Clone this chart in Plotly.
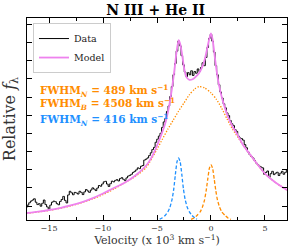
import numpy as np
import plotly.graph_objects as go

# ---- observed spectrum (velocity grid step 0.15, x 10^3 km/s) ----
data_v0 = -17.10
data_step = 0.15
data_flux = [
    0.070, 0.082, 0.095, 0.104, 0.110, 0.117, 0.098, 0.085, 0.090, 0.076,
    0.092, 0.110, 0.085, 0.072, 0.058, 0.082, 0.098, 0.104, 0.101, 0.090,
    0.084, 0.102, 0.113, 0.130, 0.108, 0.094, 0.138, 0.158, 0.150, 0.139,
    0.152, 0.149, 0.143, 0.158, 0.152, 0.140, 0.155, 0.168, 0.160, 0.152,
    0.165, 0.177, 0.170, 0.162, 0.176, 0.190, 0.186, 0.198, 0.210, 0.213,
    0.198, 0.185, 0.200, 0.214, 0.210, 0.218, 0.222, 0.215, 0.228, 0.233,
    0.224, 0.217, 0.232, 0.242, 0.246, 0.252, 0.262, 0.268, 0.276, 0.287,
    0.283, 0.296, 0.300, 0.330, 0.335, 0.342, 0.355, 0.370, 0.388, 0.400,
    0.428, 0.445, 0.462, 0.478, 0.510, 0.540, 0.560, 0.598, 0.628, 0.680,
    0.735, 0.800, 0.862, 0.930, 0.985, 0.960, 0.905, 0.855, 0.815, 0.790,
    0.812, 0.800, 0.822, 0.796, 0.818, 0.808, 0.832, 0.818, 0.840, 0.866,
    0.850, 0.895, 0.950, 1.000, 1.022, 0.985, 0.925, 0.850, 0.800, 0.745,
    0.705, 0.672, 0.640, 0.618, 0.590, 0.575, 0.548, 0.530, 0.520, 0.498,
    0.488, 0.462, 0.452, 0.448, 0.440, 0.415, 0.398, 0.375, 0.360, 0.350,
    0.342, 0.328, 0.314, 0.305, 0.296, 0.292, 0.287, 0.252, 0.262, 0.270,
    0.235, 0.255, 0.268, 0.250, 0.258, 0.263, 0.245, 0.258, 0.268, 0.252,
    0.262, 0.274,
]
data_vel = np.round(data_v0 + data_step * np.arange(len(data_flux)), 2)

# ---- total model ----
model_vel = [-17.1, -16, -15, -14, -13, -12, -11, -10, -9, -8, -7, -6, -5.5, -5,
             -4.6, -4.2, -3.9, -3.6, -3.4, -3.2, -3.0, -2.85, -2.7, -2.5, -2.3,
             -2.0, -1.7, -1.4, -1.1, -0.8, -0.55, -0.3, -0.15, 0.0, 0.15, 0.35,
             0.6, 0.9, 1.2, 1.6, 2.0, 2.5, 3.0, 3.5, 4.0, 5.0, 6.0, 7.1]
model_flux = [0.038, 0.046, 0.055, 0.066, 0.080, 0.097, 0.119, 0.146, 0.176, 0.205,
              0.245, 0.300, 0.345, 0.410, 0.470, 0.540, 0.620, 0.730, 0.820, 0.920,
              0.990, 0.970, 0.920, 0.840, 0.790, 0.772, 0.775, 0.790, 0.810, 0.845,
              0.890, 0.960, 1.000, 1.028, 0.995, 0.900, 0.790, 0.700, 0.635, 0.565,
              0.515, 0.465, 0.410, 0.370, 0.330, 0.255, 0.205, 0.163]

# ---- broad component ----
broad_vel = [-17.1, -15, -13, -11, -10, -9, -8, -7, -6, -5, -4.5, -4, -3.5, -3,
             -2.5, -2, -1.5, -1.1, -0.6, 0, 0.5, 1, 1.5, 2, 2.5, 3, 4, 5, 6, 7.1]
broad_flux = [0.036, 0.053, 0.077, 0.115, 0.140, 0.170, 0.205, 0.240, 0.290, 0.390,
              0.445, 0.500, 0.550, 0.600, 0.645, 0.690, 0.722, 0.735, 0.728, 0.700,
              0.665, 0.615, 0.555, 0.500, 0.455, 0.410, 0.330, 0.255, 0.205, 0.163]

# ---- narrow components ----
narrow_b_vel = [-4.75, -4.5, -4.25, -4.0, -3.8, -3.6, -3.45, -3.3, -3.15, -3.0, -2.85,
                -2.7, -2.55, -2.4, -2.2, -2.0, -1.75, -1.5, -1.3]
narrow_b_flux = [0.004, 0.012, 0.025, 0.045, 0.070, 0.115, 0.170, 0.250, 0.320, 0.342,
                 0.320, 0.250, 0.170, 0.115, 0.070, 0.045, 0.025, 0.012, 0.004]
narrow_r_vel = [-1.85, -1.6, -1.3, -1.0, -0.8, -0.6, -0.45, -0.3, -0.15, 0.0, 0.15,
                0.3, 0.45, 0.6, 0.8, 1.0, 1.3, 1.6, 1.85]
narrow_r_flux = [0.004, 0.010, 0.025, 0.045, 0.070, 0.110, 0.160, 0.225, 0.285, 0.305,
                 0.285, 0.225, 0.160, 0.110, 0.070, 0.045, 0.025, 0.010, 0.004]

fwhm_labels = [
    ("FWHM<sub><i>N</i></sub> = 489 km s<sup>−1</sup>", "#FF8C00"),
    ("FWHM<sub><i>B</i></sub> = 4508 km s<sup>−1</sup>", "#FF8C00"),
    ("FWHM<sub><i>N</i></sub> = 416 km s<sup>−1</sup>", "#1E90FF"),
]
fwhm_ypos = [0.641, 0.573, 0.496]

SERIF = "DejaVu Serif"
ORANGE = "#FF8C00"
BLUE = "#1E90FF"
VIOLET = "#EE82EE"

fig = go.Figure()
fig.add_trace(go.Scatter(x=data_vel, y=data_flux, mode="lines", name="Data",
                         line=dict(color="black", width=1, shape="hvh")))
fig.add_trace(go.Scatter(x=broad_vel, y=broad_flux, mode="lines", showlegend=False,
                         line=dict(color=ORANGE, width=1.3, dash="1.3px,1.6px",
                                   shape="spline", smoothing=0.6)))
fig.add_trace(go.Scatter(x=narrow_b_vel, y=narrow_b_flux, mode="lines", showlegend=False,
                         line=dict(color=BLUE, width=1.3, dash="3.5px,2px",
                                   shape="spline", smoothing=0.5)))
fig.add_trace(go.Scatter(x=narrow_r_vel, y=narrow_r_flux, mode="lines", showlegend=False,
                         line=dict(color=ORANGE, width=1.3, dash="3.5px,2px",
                                   shape="spline", smoothing=0.5)))
fig.add_trace(go.Scatter(x=model_vel, y=model_flux, mode="lines", name="Model",
                         line=dict(color=VIOLET, width=1.8, shape="spline", smoothing=0.6)))

for (txt, col), yp in zip(fwhm_labels, fwhm_ypos):
    fig.add_annotation(x=0.042, y=yp, xref="paper", yref="paper", xanchor="left",
                       yanchor="middle", showarrow=False, text="<b>" + txt + "</b>",
                       font=dict(family=SERIF, size=10.5, color=col))

fig.update_layout(
    width=291, height=249,
    margin=dict(l=27, r=4, t=18, b=28.5),
    paper_bgcolor="white", plot_bgcolor="white",
    title=dict(text="<b>N III + He II</b>", x=0.535, xanchor="center", y=0.958,
               yanchor="middle", font=dict(family=SERIF, size=14, color="black")),
    font=dict(family=SERIF, color="black"),
    legend=dict(x=0.023, y=0.975, xanchor="left", yanchor="top",
                bgcolor="white", bordercolor="#cccccc", borderwidth=1,
                font=dict(family=SERIF, size=9.5, color="#222"), itemwidth=30,
                tracegroupgap=0),
    showlegend=True,
)
fig.update_xaxes(range=[-17.04, 7.04], tickmode="linear", tick0=0, dtick=5,
                 ticks="inside", ticklen=5, tickcolor="black", mirror="ticks",
                 showline=True, linecolor="black", linewidth=1, showgrid=False,
                 zeroline=False, tickfont=dict(family=SERIF, size=8, color="#333"),
                 minor=dict(dtick=2.5, tick0=0, ticks="inside", ticklen=3,
                            tickcolor="black", showgrid=False),
                 title=dict(text="Velocity (x 10<sup>3</sup> km s<sup>−1</sup>)",
                            font=dict(family=SERIF, size=11, color="#333"), standoff=2))
fig.update_yaxes(range=[0, 1.1126], tickmode="linear", tick0=0.0769, dtick=0.1,
                 ticks="inside", ticklen=5, tickcolor="black", mirror="ticks",
                 showline=True, linecolor="black", linewidth=1, showgrid=False,
                 zeroline=False, showticklabels=False,
                 title=dict(text="Relative <i>f</i><sub>λ</sub>",
                            font=dict(family=SERIF, size=16, color="#333"), standoff=6))

fig.write_html("out.html", config={"displayModeBar": False},
               post_script="document.body.style.margin='0';")
